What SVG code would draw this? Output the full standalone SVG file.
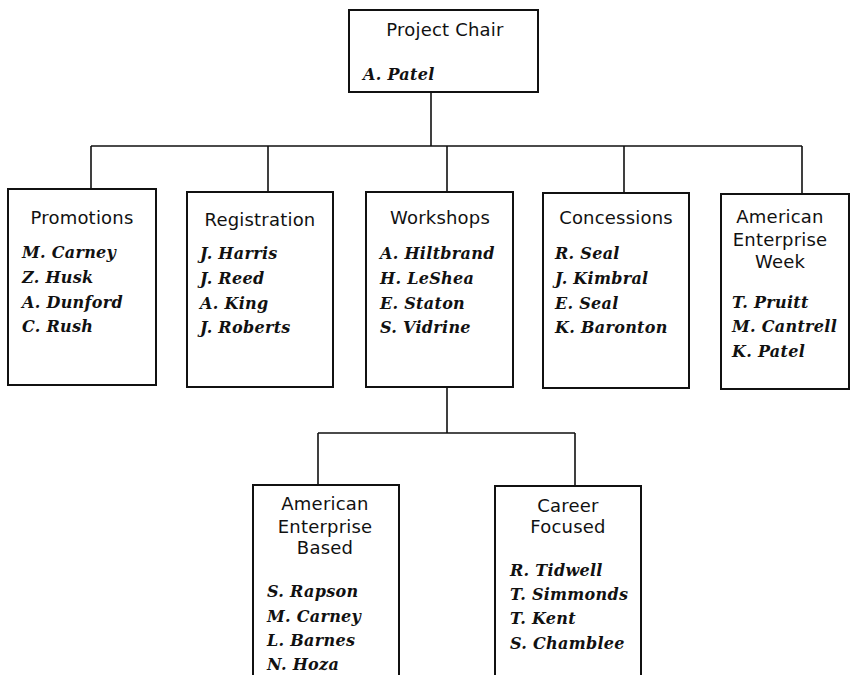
<svg xmlns="http://www.w3.org/2000/svg" width="855" height="675" viewBox="0 0 855 675">
<style>
.box{fill:#fff;stroke:#111;stroke-width:2}
.con{fill:none;stroke:#111;stroke-width:1.6}
.t{font-family:"DejaVu Sans",Verdana,sans-serif;font-size:18px;fill:#111;text-anchor:middle;letter-spacing:0.2px}
.n{font-family:"DejaVu Serif","Liberation Serif",serif;font-size:16px;font-weight:bold;font-style:italic;fill:#111;letter-spacing:0.3px}
</style>
<rect width="855" height="675" fill="#fff"/>
<g id="connectors">
<path class="con" d="M431 92V146M91 146H802M91 146V189M268 146V192M447 146V192M624 146V193M802 146V194"/>
<path class="con" d="M447 387V433M318 433H575M318 433V485M575 433V486"/>
</g>
<g id="chair">
<rect class="box" x="349" y="10" width="189" height="82"/>
<text class="t" x="445" y="36">Project Chair</text>
<text class="n" x="363" y="80">A. Patel</text>
</g>
<g id="promotions">
<rect class="box" x="8" y="189" width="148" height="196"/>
<text class="t" x="82" y="224">Promotions</text>
<text class="n" x="22" y="258">M. Carney</text>
<text class="n" x="22" y="283">Z. Husk</text>
<text class="n" x="22" y="308">A. Dunford</text>
<text class="n" x="22" y="332">C. Rush</text>
</g>
<g id="registration">
<rect class="box" x="187" y="192" width="146" height="195"/>
<text class="t" x="260" y="226">Registration</text>
<text class="n" x="200" y="259">J. Harris</text>
<text class="n" x="200" y="284">J. Reed</text>
<text class="n" x="200" y="309">A. King</text>
<text class="n" x="200" y="333">J. Roberts</text>
</g>
<g id="workshops">
<rect class="box" x="366" y="192" width="147" height="195"/>
<text class="t" x="440" y="224">Workshops</text>
<text class="n" x="380" y="259">A. Hiltbrand</text>
<text class="n" x="380" y="284">H. LeShea</text>
<text class="n" x="380" y="309">E. Staton</text>
<text class="n" x="380" y="333">S. Vidrine</text>
</g>
<g id="concessions">
<rect class="box" x="543" y="193" width="146" height="195"/>
<text class="t" x="616" y="224">Concessions</text>
<text class="n" x="555" y="259">R. Seal</text>
<text class="n" x="555" y="284">J. Kimbral</text>
<text class="n" x="555" y="309">E. Seal</text>
<text class="n" x="555" y="333">K. Baronton</text>
</g>
<g id="aew">
<rect class="box" x="721" y="194" width="128" height="195"/>
<text class="t" x="780" y="223">American</text>
<text class="t" x="780" y="246">Enterprise</text>
<text class="t" x="780" y="268">Week</text>
<text class="n" x="732" y="308">T. Pruitt</text>
<text class="n" x="732" y="332">M. Cantrell</text>
<text class="n" x="732" y="357">K. Patel</text>
</g>
<g id="aeb">
<rect class="box" x="253" y="485" width="146" height="200"/>
<text class="t" x="325" y="510">American</text>
<text class="t" x="325" y="533">Enterprise</text>
<text class="t" x="325" y="554">Based</text>
<text class="n" x="267" y="597">S. Rapson</text>
<text class="n" x="267" y="622">M. Carney</text>
<text class="n" x="267" y="646">L. Barnes</text>
<text class="n" x="267" y="670">N. Hoza</text>
</g>
<g id="career">
<rect class="box" x="495" y="486" width="146" height="200"/>
<text class="t" x="568" y="512">Career</text>
<text class="t" x="568" y="533">Focused</text>
<text class="n" x="510" y="576">R. Tidwell</text>
<text class="n" x="510" y="600">T. Simmonds</text>
<text class="n" x="510" y="624">T. Kent</text>
<text class="n" x="510" y="649">S. Chamblee</text>
</g>
</svg>
